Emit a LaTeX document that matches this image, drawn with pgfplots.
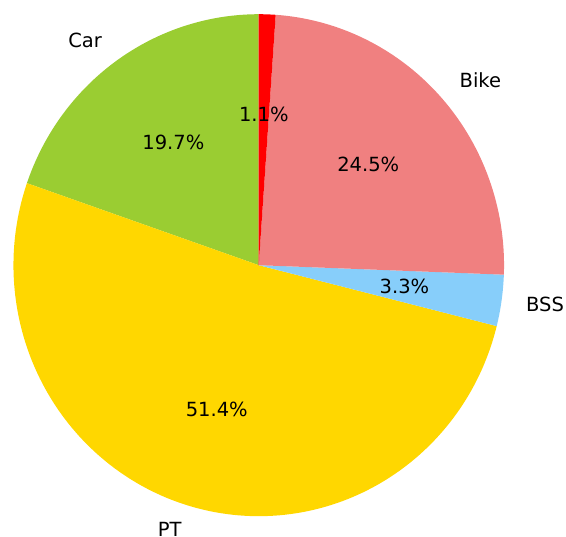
\documentclass[border=0pt]{standalone}
\usepackage{fontspec}
\setmainfont{DejaVu Sans}
\usepackage{pgfplots}
\usepackage{pgfplotstable}
\pgfplotsset{compat=1.18}

\definecolor{cCar}{HTML}{9ACD32}
\definecolor{cPT}{HTML}{FFD700}
\definecolor{cBSS}{HTML}{87CEFA}
\definecolor{cBike}{HTML}{F08080}
\definecolor{cRed}{HTML}{FF0000}

% shares in percent, counter-clockwise from 90 degrees
\pgfplotstableread{
mode share
Car  19.7
PT   51.4
BSS  3.3
Bike 24.5
Other 1.1
}\sharetable

\pgfmathsetmacro{\aO}{90}
\pgfplotstablegetelem{0}{share}\of\sharetable \pgfmathsetmacro{\aA}{\aO+3.6*\pgfplotsretval}
\pgfplotstablegetelem{1}{share}\of\sharetable \pgfmathsetmacro{\aB}{\aA+3.6*\pgfplotsretval}
\pgfplotstablegetelem{2}{share}\of\sharetable \pgfmathsetmacro{\aC}{\aB+3.6*\pgfplotsretval}
\pgfplotstablegetelem{3}{share}\of\sharetable \pgfmathsetmacro{\aD}{\aC+3.6*\pgfplotsretval}
\pgfplotstablegetelem{4}{share}\of\sharetable \pgfmathsetmacro{\aE}{\aD+3.6*\pgfplotsretval}

\begin{document}
\begin{tikzpicture}[font=\fontsize{19.5bp}{23bp}\selectfont]
\begin{axis}[
  scale only axis,
  width=566bp, height=537bp,
  hide axis, clip=false,
  xmin=-1.0548, xmax=1.2526,
  ymin=-1.0829, ymax=1.0566,
]
\path (rel axis cs:0,0) rectangle (rel axis cs:1,1);
\addplot[fill=cCar, draw=none, domain=\aO:\aA, samples=80, variable=\t] ({cos(\t)},{sin(\t)}) -- (axis cs:0,0) -- cycle;
\addplot[fill=cPT, draw=none, domain=\aA:\aB, samples=150, variable=\t] ({cos(\t)},{sin(\t)}) -- (axis cs:0,0) -- cycle;
\addplot[fill=cBSS, draw=none, domain=\aB:\aC, samples=20, variable=\t] ({cos(\t)},{sin(\t)}) -- (axis cs:0,0) -- cycle;
\addplot[fill=cBike, draw=none, domain=\aC:\aD, samples=90, variable=\t] ({cos(\t)},{sin(\t)}) -- (axis cs:0,0) -- cycle;
\addplot[fill=cRed, draw=none, domain=\aD:\aE, samples=10, variable=\t] ({cos(\t)},{sin(\t)}) -- (axis cs:0,0) -- cycle;

% outer labels (1.1 r)
\node[anchor=east, inner sep=0pt] at (axis cs:-0.6384,0.8963) {Car};
\node[anchor=east, inner sep=0pt] at (axis cs:-0.3135,-1.0543) {PT};
\node[anchor=west, inner sep=0pt] at (axis cs:1.0890,-0.1550) {BSS};
\node[anchor=west, inner sep=0pt] at (axis cs:0.8183,0.7351) {Bike};

% percentage labels (0.6 r)
\node[inner sep=0pt] at (axis cs:-0.3482,0.4886) {19.7\%};
\node[inner sep=0pt] at (axis cs:-0.1710,-0.5751) {51.4\%};
\node[inner sep=0pt] at (axis cs:0.5940,-0.0845) {3.3\%};
\node[inner sep=0pt] at (axis cs:0.4464,0.4010) {24.5\%};
\node[inner sep=0pt] at (axis cs:0.0207,0.5996) {1.1\%};
\end{axis}
\end{tikzpicture}
\end{document}
